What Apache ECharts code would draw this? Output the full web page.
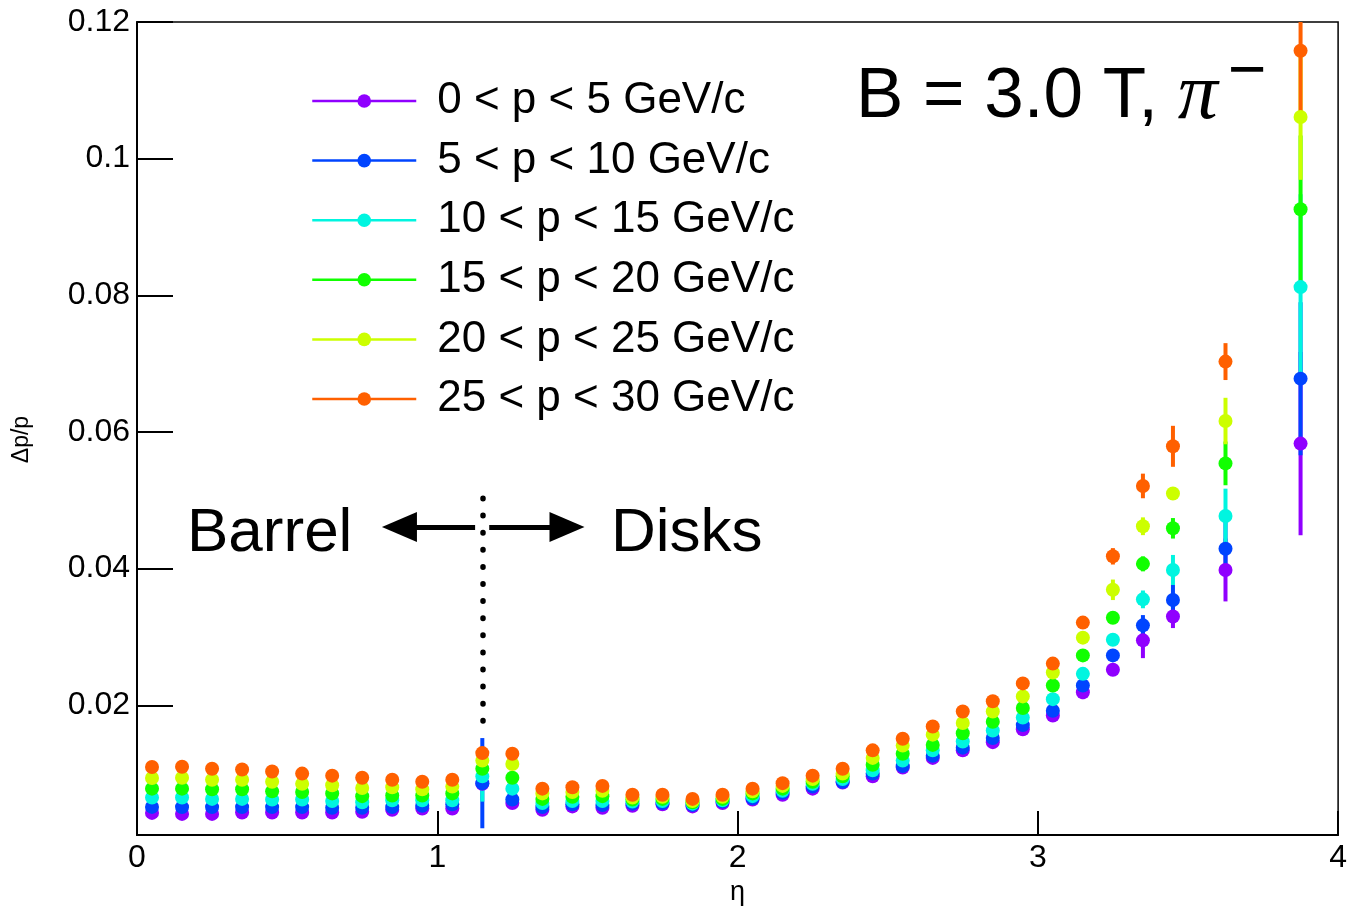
<!DOCTYPE html>
<html>
<head>
<meta charset="utf-8">
<script src="https://cdn.jsdelivr.net/npm/echarts@6/dist/echarts.min.js"></script>
<style>
  html, body { margin: 0; padding: 0; background: #fff; }
  #chart { width: 1350px; height: 911px; }
</style>
</head>
<body>
<div id="chart"></div>
<script>
// eta bin centres (0.1 wide up to 3.5, then two 0.25 wide bins)
const eta = [0.05, 0.15, 0.25, 0.35, 0.45, 0.55, 0.65, 0.75, 0.85, 0.95,
  1.05, 1.15, 1.25, 1.35, 1.45, 1.55, 1.65, 1.75, 1.85, 1.95,
  2.05, 2.15, 2.25, 2.35, 2.45, 2.55, 2.65, 2.75, 2.85, 2.95,
  3.05, 3.15, 3.25, 3.35, 3.45, 3.625, 3.875];

const seriesNames = ['0 < p < 5 GeV/c', '5 < p < 10 GeV/c', '10 < p < 15 GeV/c',
  '15 < p < 20 GeV/c', '20 < p < 25 GeV/c', '25 < p < 30 GeV/c'];
const seriesColors = ['#9000ff', '#0044ff', '#00f5e0', '#11ff00', '#ccff00', '#ff6000'];

// dp/p per momentum range
const res0to5 = [0.00425, 0.0041, 0.0041, 0.0043, 0.0043, 0.0043, 0.0043, 0.0044, 0.0047, 0.0049,
  0.0049, 0.0085, 0.0057, 0.0047, 0.0052, 0.0050, 0.0053, 0.0055, 0.0052, 0.0057,
  0.0062, 0.0069, 0.0078, 0.0087, 0.0096, 0.0109, 0.0123, 0.0134, 0.0146, 0.0165,
  0.0185, 0.0219, 0.0252, 0.0295, 0.0330, 0.0398, 0.0583];
const res5to10 = [0.00513, 0.0051, 0.0051, 0.0051, 0.0051, 0.0051, 0.0050, 0.0050, 0.0051, 0.0053,
  0.0055, 0.0086, 0.0062, 0.0051, 0.0055, 0.0054, 0.0056, 0.0057, 0.0054, 0.0059,
  0.0064, 0.0072, 0.0081, 0.0088, 0.0100, 0.0111, 0.0126, 0.0138, 0.0152, 0.0171,
  0.0192, 0.0229, 0.0273, 0.0317, 0.0354, 0.0429, 0.0678];
const res10to15 = [0.00649, 0.0065, 0.0063, 0.0063, 0.0062, 0.0062, 0.0060, 0.0058, 0.0061, 0.0061,
  0.0061, 0.0096, 0.0078, 0.0057, 0.0060, 0.0060, 0.0059, 0.0060, 0.0056, 0.0061,
  0.0067, 0.0075, 0.0085, 0.0092, 0.0105, 0.0119, 0.0134, 0.0147, 0.0163, 0.0182,
  0.0209, 0.0246, 0.0296, 0.0355, 0.0398, 0.0477, 0.0812];
const res15to20 = [0.0078, 0.0078, 0.0077, 0.0077, 0.0074, 0.0073, 0.0071, 0.0067, 0.0068, 0.0068,
  0.0071, 0.0107, 0.0094, 0.0063, 0.0066, 0.0067, 0.0062, 0.0063, 0.0058, 0.0063,
  0.0071, 0.0078, 0.0088, 0.0096, 0.0113, 0.0129, 0.0142, 0.0159, 0.0176, 0.0196,
  0.0229, 0.0273, 0.0328, 0.0407, 0.0459, 0.0554, 0.0926];
const res20to25 = [0.00936, 0.0094, 0.0091, 0.0091, 0.0088, 0.0085, 0.0083, 0.0079, 0.0080, 0.0077,
  0.0081, 0.0119, 0.0114, 0.0071, 0.0073, 0.0075, 0.0065, 0.0066, 0.0060, 0.0066,
  0.0074, 0.0082, 0.0092, 0.0100, 0.0123, 0.0141, 0.0157, 0.0174, 0.0191, 0.0213,
  0.0248, 0.0299, 0.0369, 0.0462, 0.0510, 0.0616, 0.1061];
const res25to30 = [0.01097, 0.0110, 0.0107, 0.0106, 0.0103, 0.0100, 0.0097, 0.0094, 0.0091, 0.0088,
  0.0091, 0.0130, 0.0129, 0.0078, 0.0080, 0.0082, 0.0069, 0.0069, 0.0063, 0.0069,
  0.0078, 0.0086, 0.0097, 0.0107, 0.0134, 0.0151, 0.0169, 0.0191, 0.0206, 0.0232,
  0.0261, 0.0321, 0.0418, 0.0521, 0.0579, 0.0703, 0.1158];

// symmetric errors
const err0to5 = [0.0002, 0.0002, 0.0002, 0.0002, 0.0002, 0.0002, 0.0002, 0.0002, 0.0002, 0.0002,
  0.0008, 0.0002, 0.0002, 0.0002, 0.0002, 0.0002, 0.0002, 0.0002, 0.0002, 0.0002,
  0.0002, 0.0002, 0.0002, 0.0002, 0.0002, 0.0002, 0.0002, 0.0002, 0.0002, 0.0002,
  0.0003, 0.0010, 0.0005, 0.0026, 0.0017, 0.0046, 0.0134];
const err5to10 = [0.0002, 0.0002, 0.0002, 0.0002, 0.0002, 0.0002, 0.0002, 0.0002, 0.0002, 0.0002,
  0.0002, 0.0066, 0.0002, 0.0002, 0.0002, 0.0002, 0.0002, 0.0002, 0.0002, 0.0002,
  0.0002, 0.0002, 0.0002, 0.0002, 0.0002, 0.0002, 0.0002, 0.0002, 0.0002, 0.0002,
  0.0003, 0.0004, 0.0005, 0.0015, 0.0022, 0.0040, 0.0112];
const err10to15 = [0.0002, 0.0002, 0.0002, 0.0002, 0.0002, 0.0002, 0.0002, 0.0002, 0.0002, 0.0002,
  0.0002, 0.0037, 0.0002, 0.0002, 0.0002, 0.0002, 0.0002, 0.0002, 0.0002, 0.0002,
  0.0002, 0.0002, 0.0002, 0.0002, 0.0002, 0.0002, 0.0002, 0.0002, 0.0002, 0.0002,
  0.0003, 0.0004, 0.0005, 0.0013, 0.0022, 0.0040, 0.0136];
const err15to20 = [0.0002, 0.0002, 0.0002, 0.0002, 0.0002, 0.0002, 0.0002, 0.0002, 0.0002, 0.0002,
  0.0002, 0.0006, 0.0002, 0.0002, 0.0002, 0.0002, 0.0002, 0.0002, 0.0002, 0.0002,
  0.0002, 0.0002, 0.0002, 0.0002, 0.0002, 0.0002, 0.0002, 0.0002, 0.0002, 0.0002,
  0.0003, 0.0004, 0.0005, 0.0011, 0.0015, 0.0032, 0.0108];
const err20to25 = [0.0002, 0.0002, 0.0002, 0.0002, 0.0002, 0.0002, 0.0002, 0.0002, 0.0002, 0.0002,
  0.0002, 0.0004, 0.0002, 0.0002, 0.0002, 0.0002, 0.0002, 0.0002, 0.0002, 0.0002,
  0.0002, 0.0002, 0.0002, 0.0002, 0.0002, 0.0002, 0.0002, 0.0002, 0.0002, 0.0002,
  0.0003, 0.0004, 0.0015, 0.0013, 0.0008, 0.0034, 0.0092];
const err25to30 = [0.0002, 0.0002, 0.0002, 0.0002, 0.0002, 0.0002, 0.0002, 0.0002, 0.0002, 0.0002,
  0.0002, 0.0004, 0.0002, 0.0002, 0.0002, 0.0002, 0.0002, 0.0002, 0.0002, 0.0002,
  0.0002, 0.0002, 0.0002, 0.0002, 0.0002, 0.0002, 0.0002, 0.0002, 0.0002, 0.0002,
  0.0003, 0.0004, 0.0012, 0.0018, 0.0030, 0.0027, 0.0093];

const yTicks = [0.02, 0.04, 0.06, 0.08, 0.1, 0.12];
const xTicks = [0, 1, 2, 3, 4];

// barrel / disks annotation (data coords)
const dividerEta = 1.15;
const dividerRange = [0.0503, 0.0165];
const arrowY = 0.0461;
const arrowLeft = [1.126, 0.874];
const arrowRight = [1.173, 1.432];

const FONT = '"Liberation Sans", Arial, Helvetica, sans-serif';

const resolution = [res0to5, res5to10, res10to15, res15to20, res20to25, res25to30];
const errors = [err0to5, err5to10, err10to15, err15to20, err20to25, err25to30];

const chart = echarts.init(document.getElementById('chart'));

const series = [];

// guides drawn first so points sit on top
series.push({
  type: 'scatter',
  name: 'guides',
  data: [],
  silent: true,
  markLine: {
    silent: true,
    animation: false,
    symbol: 'none',
    label: { show: false },
    emphasis: { disabled: true },
    lineStyle: { color: '#000', width: 5, type: 'solid' },
    data: [
      [
        { coord: [dividerEta, dividerRange[0]], lineStyle: { type: [0.5, 16.6], cap: 'round', width: 5.5, color: '#000' } },
        { coord: [dividerEta, dividerRange[1]] }
      ],
      [
        { coord: [arrowLeft[0], arrowY], symbol: 'none' },
        { coord: [arrowLeft[1], arrowY], symbol: 'triangle', symbolSize: [30, 35] }
      ],
      [
        { coord: [arrowRight[0], arrowY], symbol: 'none' },
        { coord: [arrowRight[1], arrowY], symbol: 'triangle', symbolSize: [30, 35] }
      ]
    ]
  }
});

seriesNames.forEach((name, k) => {
  const color = seriesColors[k];
  series.push({
    type: 'custom',
    name: 'err' + k,
    silent: true,
    clip: true,
    data: eta.map((x, i) => [x, resolution[k][i], errors[k][i]]),
    renderItem: (params, api) => {
      const x = api.value(0), y = api.value(1), e = api.value(2);
      const hi = api.coord([x, y + e]);
      const lo = api.coord([x, y - e]);
      return {
        type: 'line',
        shape: { x1: hi[0], y1: hi[1], x2: lo[0], y2: lo[1] },
        style: { stroke: color, lineWidth: 4 }
      };
    }
  });
  series.push({
    type: 'line',
    name: name,
    data: eta.map((x, i) => [x, resolution[k][i]]),
    symbol: 'circle',
    symbolSize: 14,
    showSymbol: true,
    showAllSymbol: true,
    clip: true,
    itemStyle: { color: color },
    lineStyle: { color: color, opacity: 0, width: 2.5 },
    emphasis: { disabled: true }
  });
});

const option = {
  animation: false,
  backgroundColor: '#fff',
  grid: {
    left: 137, right: 9, top: 22, bottom: 75,
    show: true, borderColor: '#000', borderWidth: 1.5, backgroundColor: 'transparent'
  },
  xAxis: {
    type: 'value',
    min: 0, max: 4, interval: 1,
    name: 'η',
    nameLocation: 'middle',
    nameGap: 38,
    nameTextStyle: { fontFamily: FONT, fontSize: 27, color: '#000' },
    axisLine: { lineStyle: { color: '#000', width: 2 } },
    axisTick: { inside: true, length: 24, lineStyle: { color: '#000', width: 2 } },
    axisLabel: {
      fontFamily: FONT, fontSize: 32, color: '#000', margin: 7,
      formatter: v => xTicks.includes(v) ? String(v) : ''
    },
    splitLine: { show: false }
  },
  yAxis: {
    type: 'value',
    min: 0.001, max: 0.12,
    name: 'Δp/p',
    nameLocation: 'middle',
    nameGap: 104,
    nameTextStyle: { fontFamily: FONT, fontSize: 23, color: '#000', padding: [0, 22, 0, 0] },
    axisLine: { lineStyle: { color: '#000', width: 2 } },
    axisTick: { inside: true, length: 36, customValues: yTicks, lineStyle: { color: '#000', width: 2 } },
    axisLabel: {
      fontFamily: FONT, fontSize: 32, color: '#000', margin: 7,
      customValues: yTicks,
      formatter: v => String(+v.toFixed(2))
    },
    splitLine: { show: false }
  },
  legend: {
    data: seriesNames,
    orient: 'vertical',
    left: 311, top: 79,
    padding: 0,
    itemWidth: 104, itemHeight: 17, itemGap: 15.6,
    selectedMode: false,
    lineStyle: { width: 2.5, opacity: 1 },
    itemStyle: { borderWidth: 0 },
    textStyle: { fontFamily: FONT, fontSize: 44, color: '#000', lineHeight: 44, padding: [0, 0, 0, 16] }
  },
  graphic: [
    {
      type: 'text', left: 856, top: 57, silent: true,
      style: {
        text: '{a|B = 3.0 T, }{b|π}',
        rich: {
          a: { fontFamily: FONT, fontSize: 71, fill: '#000', lineHeight: 80 },
          b: { fontFamily: '"Liberation Serif", "DejaVu Serif", serif', fontStyle: 'italic', fontSize: 80, fill: '#000', lineHeight: 80 }
        }
      }
    },
    {
      type: 'text', left: 1228, top: 40, silent: true,
      style: { text: '−', font: '66px ' + FONT, fill: '#000' }
    },
    {
      type: 'text', left: 187, top: 503, silent: true,
      style: { text: 'Barrel', font: '62px ' + FONT, fill: '#000' }
    },
    {
      type: 'text', left: 611, top: 503, silent: true,
      style: { text: 'Disks', font: '62px ' + FONT, fill: '#000' }
    }
  ],
  series: series
};

chart.setOption(option);
</script>
</body>
</html>
